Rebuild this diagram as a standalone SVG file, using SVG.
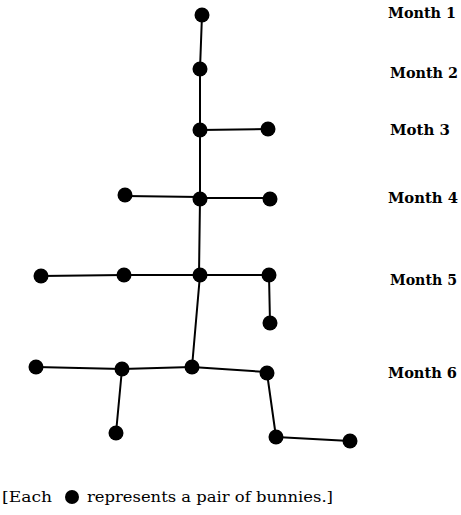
<svg xmlns="http://www.w3.org/2000/svg" width="461" height="515" viewBox="0 0 461 515">
<style>
.e{stroke:#000;stroke-width:2;fill:none;stroke-linecap:round}
.d{fill:#000}
.lbl{font-family:"DejaVu Serif","Liberation Serif",serif;font-weight:bold;font-size:14px;fill:#000}
.cap{font-family:"DejaVu Serif","Liberation Serif",serif;font-size:14px;fill:#000}
</style>
<rect width="461" height="515" fill="#fff"/>
<g id="connectors">
<line class="e" x1="202" y1="15" x2="200" y2="69"/>
<line class="e" x1="200" y1="69" x2="200" y2="130"/>
<line class="e" x1="200" y1="130" x2="268" y2="129"/>
<line class="e" x1="200" y1="130" x2="200" y2="199"/>
<line class="e" x1="125" y1="196" x2="200" y2="197"/>
<line class="e" x1="200" y1="198" x2="270" y2="198"/>
<line class="e" x1="200" y1="199" x2="199" y2="275"/>
<line class="e" x1="41" y1="276" x2="124" y2="275"/>
<line class="e" x1="124" y1="275" x2="200" y2="275"/>
<line class="e" x1="200" y1="275" x2="269" y2="275"/>
<line class="e" x1="269" y1="275" x2="270" y2="323"/>
<line class="e" x1="200" y1="275" x2="192" y2="367"/>
<line class="e" x1="36" y1="367" x2="122" y2="369"/>
<line class="e" x1="122" y1="369" x2="192" y2="367"/>
<line class="e" x1="192" y1="367" x2="267" y2="372"/>
<line class="e" x1="122" y1="369" x2="116" y2="433"/>
<line class="e" x1="267" y1="373" x2="276" y2="437"/>
<line class="e" x1="276" y1="437" x2="350" y2="441"/>
</g>
<g id="m1"><circle class="d" cx="202" cy="15" r="7.5"/></g>
<g id="m2"><circle class="d" cx="200" cy="69" r="7.5"/></g>
<g id="m3a"><circle class="d" cx="200" cy="130" r="7.5"/></g>
<g id="m3b"><circle class="d" cx="268" cy="129" r="7.5"/></g>
<g id="m4a"><circle class="d" cx="125" cy="195" r="7.5"/></g>
<g id="m4b"><circle class="d" cx="200" cy="199" r="7.5"/></g>
<g id="m4c"><circle class="d" cx="270" cy="199" r="7.5"/></g>
<g id="m5a"><circle class="d" cx="41" cy="276" r="7.5"/></g>
<g id="m5b"><circle class="d" cx="124" cy="275" r="7.5"/></g>
<g id="m5c"><circle class="d" cx="200" cy="275" r="7.5"/></g>
<g id="m5d"><circle class="d" cx="269" cy="275" r="7.5"/></g>
<g id="m5e"><circle class="d" cx="270" cy="323" r="7.5"/></g>
<g id="m6a"><circle class="d" cx="36" cy="367" r="7.5"/></g>
<g id="m6b"><circle class="d" cx="122" cy="369" r="7.5"/></g>
<g id="m6c"><circle class="d" cx="192" cy="367" r="7.5"/></g>
<g id="m6d"><circle class="d" cx="267" cy="373" r="7.5"/></g>
<g id="m6e"><circle class="d" cx="116" cy="433" r="7.5"/></g>
<g id="m6f"><circle class="d" cx="276" cy="437" r="7.5"/></g>
<g id="m6g"><circle class="d" cx="350" cy="441" r="7.5"/></g>
<g id="labels">
<text class="lbl" x="388" y="18" textLength="68" lengthAdjust="spacingAndGlyphs">Month 1</text>
<text class="lbl" x="390" y="78" textLength="68" lengthAdjust="spacingAndGlyphs">Month 2</text>
<text class="lbl" x="390" y="135" textLength="60" lengthAdjust="spacingAndGlyphs">Moth 3</text>
<text class="lbl" x="388" y="203" textLength="70" lengthAdjust="spacingAndGlyphs">Month 4</text>
<text class="lbl" x="390" y="285" textLength="67" lengthAdjust="spacingAndGlyphs">Month 5</text>
<text class="lbl" x="388" y="378" textLength="69" lengthAdjust="spacingAndGlyphs">Month 6</text>
</g>
<g id="legend">
<text class="cap" x="2" y="502" textLength="50" lengthAdjust="spacingAndGlyphs">[Each</text>
<circle class="d" cx="72" cy="497" r="7"/>
<text class="cap" x="87" y="502" textLength="246" lengthAdjust="spacingAndGlyphs">represents a pair of bunnies.]</text>
</g>
</svg>
